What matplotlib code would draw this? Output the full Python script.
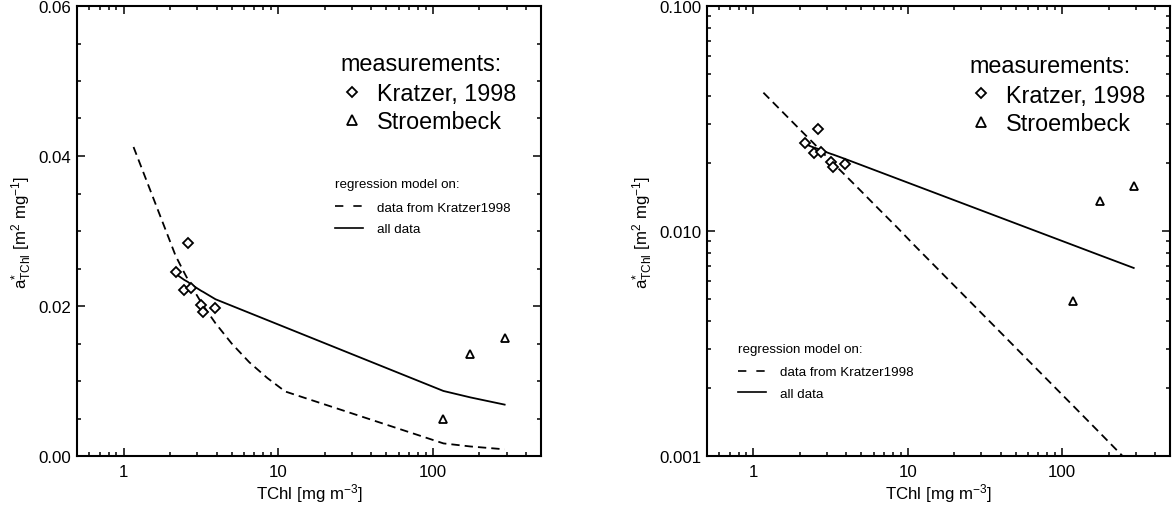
import matplotlib
matplotlib.use('Agg')
import matplotlib.pyplot as plt
from matplotlib.lines import Line2D
from matplotlib.ticker import FixedLocator, LogLocator, MultipleLocator, FuncFormatter, NullFormatter

plt.rcParams['font.family'] = ['Liberation Sans', 'DejaVu Sans']
plt.rcParams['mathtext.fontset'] = 'custom'
plt.rcParams['mathtext.rm'] = 'Liberation Sans'
plt.rcParams['mathtext.it'] = 'Liberation Sans:italic'

# measurements
kratzer_tchl = [2.17, 2.46, 2.61, 2.72, 3.19, 3.26, 3.93]
kratzer_a = [0.0246, 0.0222, 0.0284, 0.0224, 0.0202, 0.0192, 0.0198]
stroem_tchl = [117, 175, 291]
stroem_a = [0.0049, 0.0136, 0.0158]

# regression model on Kratzer1998 data (dashed)
model_k_tchl = [1.16, 2.17, 2.46, 2.61, 2.72, 3.19, 3.26, 3.93, 5.0, 6.5, 8.5, 11.1, 117, 175, 291]
model_k_a = [0.0412, 0.0267, 0.0245, 0.0235, 0.0228, 0.0204, 0.0201, 0.0177,
             0.0150, 0.0125, 0.0104, 0.0086, 0.00168, 0.00127, 0.00089]

# regression model on all data (solid)
model_all_tchl = [2.17, 2.46, 2.61, 2.72, 3.19, 3.26, 3.93, 117, 175, 291]
model_all_a = [0.0243, 0.0235, 0.0232, 0.0229, 0.0220, 0.0219, 0.0209, 0.00867, 0.00781, 0.00685]

x_ticks = [1, 10, 100]
lin_yticks = [0.0, 0.02, 0.04, 0.06]
log_yticks = [0.001, 0.01, 0.1]

fig = plt.figure(figsize=(11.73, 5.06), dpi=100)
ax1 = fig.add_axes([77 / 1173, 49 / 506, 464 / 1173, 450 / 506])
ax2 = fig.add_axes([707 / 1173, 49 / 506, 463 / 1173, 450 / 506])

lw = 1.3
dash = (4.6, 2.8)


def draw(ax, meas_pos, reg_pos):
    ax.plot(model_k_tchl, model_k_a, color='black', lw=lw, dashes=dash)
    ax.plot(model_all_tchl, model_all_a, color='black', lw=lw)
    ax.plot(kratzer_tchl, kratzer_a, ls='none', marker='D', ms=4.8,
            mfc='white', mec='black', mew=1.3)
    ax.plot(stroem_tchl, stroem_a, ls='none', marker='^', ms=6.4,
            mfc='white', mec='black', mew=1.3)

    ax.set_xscale('log')
    ax.set_xlim(0.5, 500)
    ax.xaxis.set_major_locator(FixedLocator(x_ticks))
    ax.xaxis.set_major_formatter(FuncFormatter(lambda v, p: f'{v:g}'))
    ax.xaxis.set_minor_locator(LogLocator(base=10, subs=range(2, 10), numticks=20))
    ax.xaxis.set_minor_formatter(NullFormatter())

    ax.tick_params(which='both', direction='in', top=True, right=True, width=1.1)
    ax.tick_params(which='major', length=6, labelsize=12.2)
    ax.tick_params(which='minor', length=3)
    ax.tick_params(axis='x', which='major', pad=6)
    ax.tick_params(axis='y', which='major', pad=4)
    for s in ax.spines.values():
        s.set_linewidth(1.5)

    ax.set_xlabel(r'TChl [mg m$^{-3}$]', fontsize=12.2, labelpad=1)
    ax.set_ylabel(r'$\mathrm{a}^{*}_{\mathrm{TChl}}$ [m$^{2}$ mg$^{-1}$]', fontsize=12.2, labelpad=3)

    h1 = [Line2D([], [], ls='none', marker='D', ms=5.6, mfc='white', mec='black', mew=1.3),
          Line2D([], [], ls='none', marker='^', ms=7.2, mfc='white', mec='black', mew=1.3)]
    leg1 = ax.legend(h1, ['Kratzer, 1998', 'Stroembeck'], title='measurements:',
                     loc='upper left', bbox_to_anchor=meas_pos, frameon=False,
                     fontsize=16.8, title_fontsize=16.8, alignment='left',
                     handlelength=1.0, handletextpad=0.58, labelspacing=0.22,
                     borderpad=0, borderaxespad=0)
    leg1._legend_box.sep = 5
    ax.add_artist(leg1)

    h2 = [Line2D([], [], color='black', lw=1.2, dashes=(5, 6)),
          Line2D([], [], color='black', lw=1.2)]
    leg2 = ax.legend(h2, ['data from Kratzer1998', 'all data'], title='regression model on:',
                     loc='upper left', bbox_to_anchor=reg_pos, frameon=False,
                     fontsize=9.6, title_fontsize=9.6, alignment='left',
                     handlelength=2.1, handletextpad=1.05, labelspacing=0.7,
                     borderpad=0, borderaxespad=0)
    leg2._legend_box.sep = 8


draw(ax1, (0.567, 0.898), (0.556, 0.617))
ax1.set_ylim(0, 0.06)
ax1.yaxis.set_major_locator(FixedLocator(lin_yticks))
ax1.yaxis.set_major_formatter(FuncFormatter(lambda v, p: f'{v:.2f}'))
ax1.yaxis.set_minor_locator(MultipleLocator(0.005))

draw(ax2, (0.566, 0.894), (0.066, 0.251))
ax2.set_yscale('log')
ax2.set_ylim(0.001, 0.1)
ax2.yaxis.set_major_locator(FixedLocator(log_yticks))
ax2.yaxis.set_major_formatter(FuncFormatter(lambda v, p: f'{v:.3f}'))
ax2.yaxis.set_minor_locator(LogLocator(base=10, subs=range(2, 10), numticks=20))
ax2.yaxis.set_minor_formatter(NullFormatter())

plt.savefig('out.png', dpi=100)
plt.close()
